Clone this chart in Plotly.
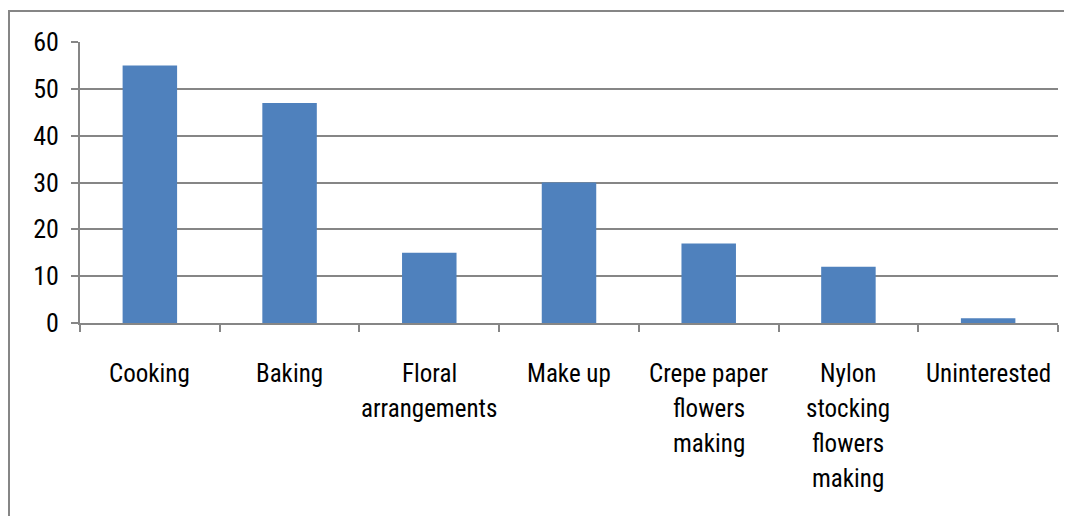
import plotly.graph_objects as go

categories = ["Cooking", "Baking", "Floral arrangements", "Make up",
              "Crepe paper flowers making", "Nylon stocking flowers making", "Uninterested"]
label_lines = [["Cooking"], ["Baking"], ["Floral", "arrangements"], ["Make up"],
               ["Crepe paper", "flowers", "making"], ["Nylon", "stocking", "flowers", "making"],
               ["Uninterested"]]
values = [55, 47, 15, 30, 17, 12, 1]
y_ticks = [0, 10, 20, 30, 40, 50, 60]

FONT = "Liberation Sans Narrow, Arial Narrow, Roboto Condensed, sans-serif"
GRID = "#868686"

# page body has an 8px default margin; figure sized to fit window
W, H = 1064, 508
L, R, T, B = 72, 14, 34, 193
pw, ph = W - L - R, H - T - B

fig = go.Figure()
fig.add_trace(go.Bar(x=categories, y=values, marker=dict(color="#4F81BD", line=dict(width=0)),
                     width=0.39))

annotations = []
for cat, lines in zip(categories, label_lines):
    for i, line in enumerate(lines):
        annotations.append(dict(x=cat, y=0, xref="x", yref="y", text=line, showarrow=False,
                                yanchor="middle", xanchor="center",
                                yshift=-(50 + 35 * i),
                                font=dict(family=FONT, size=25, color="#000000")))

fig.update_layout(
    width=W, height=H,
    margin=dict(l=L, r=R, t=T, b=B, autoexpand=False),
    paper_bgcolor="white", plot_bgcolor="white",
    showlegend=False,
    bargap=0.61,
    font=dict(family=FONT, size=25, color="#000000"),
    xaxis=dict(type="category", showticklabels=False, ticks="outside", ticklen=7,
               tickcolor=GRID, tickwidth=2, tickson="boundaries", automargin=False,
               showline=True, linecolor=GRID, linewidth=2, showgrid=False,
               range=[-0.5, len(categories) - 0.5]),
    yaxis=dict(range=[0, 60], tickvals=y_ticks, ticktext=[str(v) for v in y_ticks],
               ticks="outside", ticklen=7, tickcolor=GRID, tickwidth=2, automargin=False,
               showline=True, linecolor=GRID, linewidth=2,
               showgrid=True, gridcolor=GRID, gridwidth=2, zeroline=False,
               ticklabelstandoff=7,
               tickfont=dict(family=FONT, size=26, color="#000000")),
    annotations=annotations,
    shapes=[dict(type="rect", xref="paper", yref="paper",
                 x0=(1 - L) / pw, x1=(W + 20 - L) / pw,
                 y0=-(B + 20) / ph, y1=(H - B - 3) / ph,
                 line=dict(color=GRID, width=2), fillcolor="rgba(0,0,0,0)", layer="below")],
)

fig.write_html("out.html")
